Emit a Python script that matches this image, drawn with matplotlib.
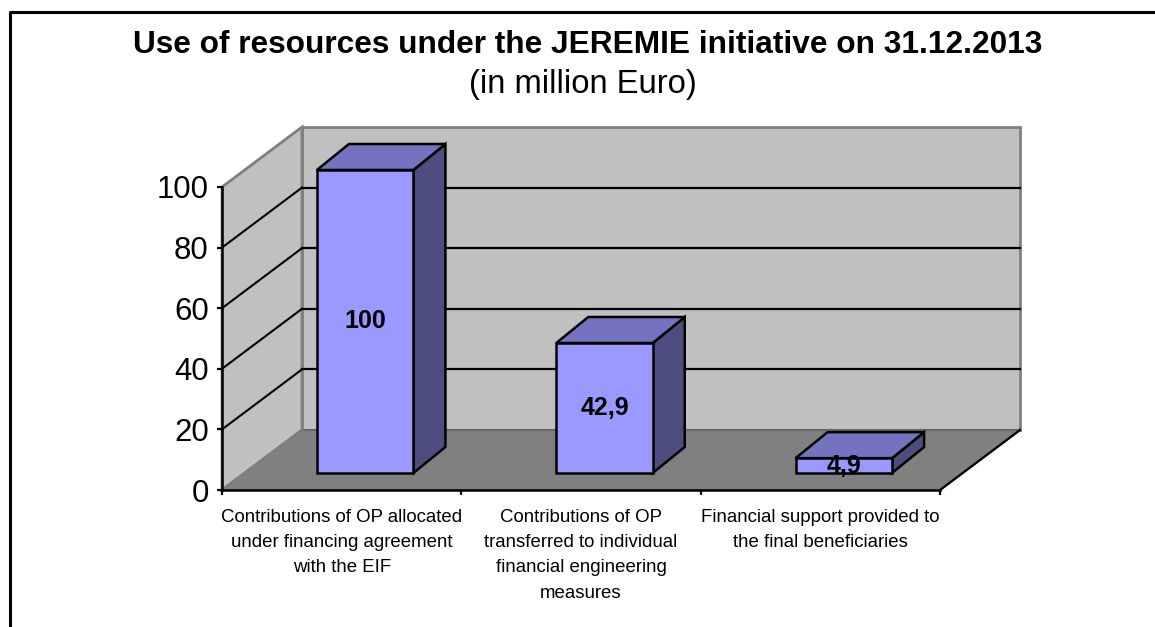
#!/usr/bin/python

import matplotlib
matplotlib.use('Agg')
import matplotlib.pyplot as plt
from matplotlib.patches import Polygon

categories = ['Contributions of OP allocated\nunder financing agreement\nwith the EIF',
              'Contributions of OP\ntransferred to individual\nfinancial engineering\nmeasures',
              'Financial support provided to\nthe final beneficiaries']
values = [100, 42.9, 4.9]
value_labels = ['100', '42,9', '4,9']
y_ticks = [0, 20, 40, 60, 80, 100]

W, H = 1155, 627
plt.rcParams['font.family'] = ['Liberation Sans', 'DejaVu Sans']
fig = plt.figure(figsize=(W/100., H/100.), dpi=100)

# axes = the front plane of the fake 3d box, in px from the picture
x0, x1, y0, y100 = 222., 940., 490., 187.
ax = fig.add_axes([x0/W, 1-y0/H, (x1-x0)/W, (y0-y100)/H])
ax.set_xlim(0, len(values))
ax.set_ylim(0, 100)
ax.patch.set_visible(False)

px_x = (x1-x0)/len(values)
px_y = (y0-y100)/100.
# depth of the box and of the bars
box_dx, box_dy = 80./px_x, 60./px_y
bar_dx, bar_dy = 32./px_x, 26./px_y
bar_w = 96.5/px_x
shift_x, shift_y = 23.5/px_x, 17./px_y

def poly(pts, fc, ec='black', lw=1.8, z=2):
    ax.add_patch(Polygon(pts, closed=True, fc=fc, ec=ec, lw=lw, zorder=z, clip_on=False, joinstyle='miter'))

n = len(values)
top = y_ticks[-1]
# back wall, side wall, floor
poly([(box_dx, box_dy), (n+box_dx, box_dy), (n+box_dx, top+box_dy), (box_dx, top+box_dy)], '#c0c0c0', '#808080', 2.0, 1)
poly([(0, 0), (box_dx, box_dy), (box_dx, top+box_dy), (0, top)], '#c0c0c0', '#808080', 2.0, 1)
poly([(0, 0), (n, 0), (n+box_dx, box_dy), (box_dx, box_dy)], '#808080', '#666666', 1.5, 1)
# floor front right edge is black
ax.plot([n, n+box_dx], [0, box_dy], color='black', lw=1.6, clip_on=False, zorder=1.5)

for t in y_ticks[1:-1]:
    ax.plot([0, box_dx], [t, t+box_dy], color='black', lw=1.5, clip_on=False, zorder=1.2)
    ax.plot([box_dx, n+box_dx], [t+box_dy, t+box_dy], color='black', lw=1.6, clip_on=False, zorder=1.2)
# the 0 line of the back wall is the floor edge, the top one stays grey
ax.plot([0, box_dx], [0, box_dy], color='#808080', lw=1.8, clip_on=False, zorder=1.3)

for i, v in enumerate(values):
    c = i+0.5+shift_x
    l, r = c-bar_w/2, c+bar_w/2
    b, t = shift_y, shift_y+v
    poly([(r, b), (r+bar_dx, b+bar_dy), (r+bar_dx, t+bar_dy), (r, t)], '#4d4d80', z=3)
    poly([(l, t), (r, t), (r+bar_dx, t+bar_dy), (l+bar_dx, t+bar_dy)], '#7373bf', z=3)
    poly([(l, b), (r, b), (r, t), (l, t)], '#9999ff', z=3)
    ax.text(c, b+v/2., value_labels[i], ha='center', va='center', fontsize=18, fontweight='bold', zorder=4)

for s in ('top', 'right'):
    ax.spines[s].set_visible(False)
for s in ('left', 'bottom'):
    ax.spines[s].set_linewidth(1.8)
    ax.spines[s].set_zorder(5)
ax.set_yticks(y_ticks)
ax.set_xticks(range(n+1))
ax.set_xticklabels([])
ax.tick_params(axis='both', length=3.6, width=1.6)
ax.tick_params(axis='y', labelsize=22.4, pad=6)
for i, lab in enumerate(categories):
    ax.annotate(lab, xy=(i+0.5, 0), xycoords=('data', 'axes fraction'), xytext=(0, -19), textcoords='offset pixels',
                ha='center', va='top', fontsize=13.4, linespacing=1.63)

fig.text(588./W, 1-45./H, 'Use of resources under the JEREMIE initiative on 31.12.2013', ha='center', va='center', fontsize=22.8, fontweight='bold')
fig.text(583./W, 1-85./H, '(in million Euro)', ha='center', va='center', fontsize=23.6)

# outer frame, cut off at the bottom and right of the picture
fig.add_artist(plt.Line2D([9.5/W, 9.5/W, 1.], [0, 1-12./H, 1-12./H], color='black', lw=2.2))

plt.savefig('out.png', dpi=100)
